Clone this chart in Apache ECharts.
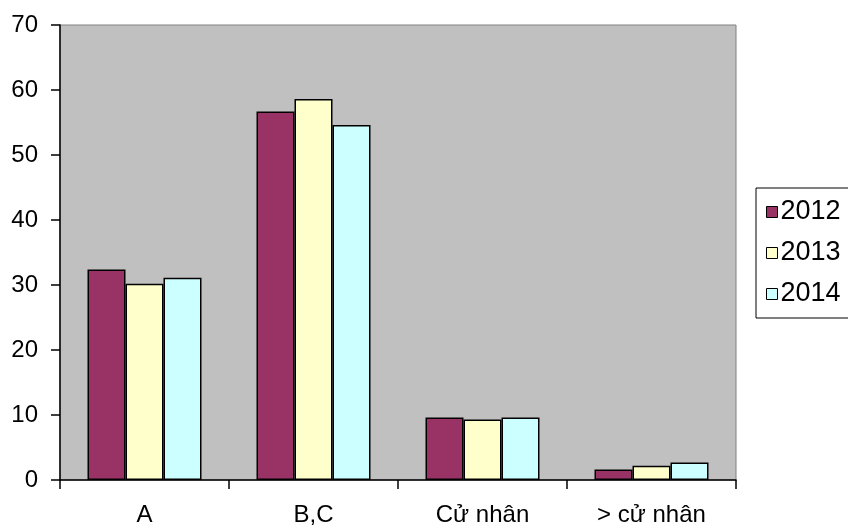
<!DOCTYPE html>
<html>
<head>
<meta charset="utf-8">
<script src="https://cdn.jsdelivr.net/npm/echarts@6/dist/echarts.min.js"></script>
<style>
  html, body { margin: 0; padding: 0; background: #ffffff; }
  #chart { width: 848px; height: 529px; }
</style>
</head>
<body>
<div id="chart"></div>
<script>
// Education level categories and yearly shares (%)
const categories = ['A', 'B,C', 'Cử nhân', '> cử nhân'];
const years = ['2012', '2013', '2014'];
const values2012 = [32.4, 56.7, 9.6, 1.6];
const values2013 = [30.2, 58.6, 9.3, 2.2];
const values2014 = [31.1, 54.6, 9.6, 2.7];
const yTicks = { min: 0, max: 70, step: 10 };

const colors = ['#993366', '#FFFFCC', '#CCFFFF'];
const seriesValues = [values2012, values2013, values2014];
const FONT = 'Liberation Sans, Arial, sans-serif';

const chart = echarts.init(document.getElementById('chart'), null, { renderer: 'canvas' });

chart.setOption({
  animation: false,
  backgroundColor: '#ffffff',
  textStyle: { fontFamily: FONT, color: '#000' },
  grid: {
    left: 60, right: 112, top: 25, bottom: 49,
    show: true,
    backgroundColor: '#C0C0C0',
    borderColor: '#808080',
    borderWidth: 1
  },
  legend: {
    orient: 'vertical',
    left: 756,
    top: 188,
    padding: [10, 20, 10, 10],
    itemGap: 13,
    itemWidth: 11,
    itemHeight: 11,
    icon: 'rect',
    borderColor: '#000',
    borderWidth: 1,
    backgroundColor: '#fff',
    data: years,
    textStyle: { fontFamily: FONT, fontSize: 27, color: '#000', lineHeight: 28, padding: [0, 0, 0, -2] },
    itemStyle: { borderColor: '#000', borderWidth: 1 }
  },
  xAxis: {
    type: 'category',
    data: categories,
    boundaryGap: true,
    axisLine: { show: true, lineStyle: { color: '#000', width: 1.5 } },
    axisTick: { show: true, inside: false, length: 9, alignWithLabel: false, lineStyle: { color: '#000', width: 1.5 } },
    axisLabel: { fontFamily: FONT, fontSize: 24, color: '#000', margin: 23 },
    splitLine: { show: false }
  },
  yAxis: {
    type: 'value',
    min: yTicks.min,
    max: yTicks.max,
    interval: yTicks.step,
    axisLine: { show: true, lineStyle: { color: '#000', width: 1.5 } },
    axisTick: { show: true, inside: false, length: 9, lineStyle: { color: '#000', width: 1.5 } },
    axisLabel: { fontFamily: FONT, fontSize: 24, color: '#000', margin: 22 },
    splitLine: { show: false }
  },
  series: years.map((y, i) => ({
    name: y,
    type: 'bar',
    data: seriesValues[i],
    barWidth: 38,
    barGap: '0%',
    itemStyle: { color: colors[i], borderColor: '#000', borderWidth: 1.5 }
  }))
});
</script>
</body>
</html>
